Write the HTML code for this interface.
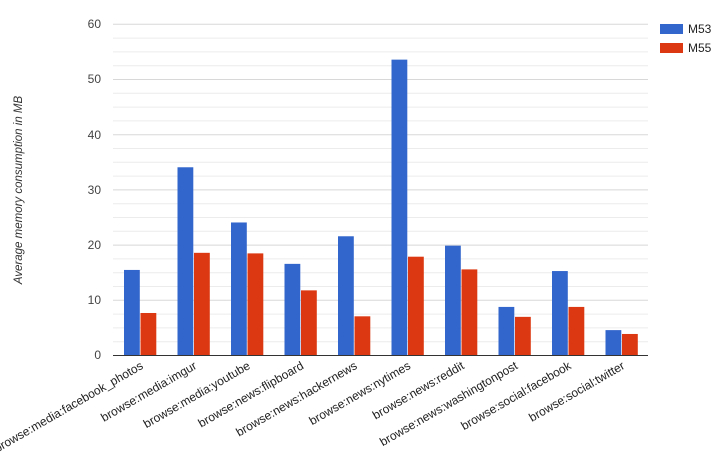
<!DOCTYPE html>
<html><head><meta charset="utf-8"><style>
html,body{margin:0;padding:0;background:#fff;}
svg{display:block;font-family:"Liberation Sans",Arial,sans-serif;}
</style></head><body>
<svg width="720" height="458" viewBox="0 0 720 458" xmlns="http://www.w3.org/2000/svg">
<g id="grid"></g>
<g id="bars"></g>
<line x1="113" y1="355.5" x2="648" y2="355.5" stroke="#333" stroke-width="1"/>
<g font-size="12" fill="#444" text-anchor="end">
<text x="101" y="359">0</text>
<text x="101" y="304">10</text>
<text x="101" y="249">20</text>
<text x="101" y="194">30</text>
<text x="101" y="139">40</text>
<text x="101" y="83">50</text>
<text x="101" y="28">60</text>
</g>
<text transform="translate(22,190) rotate(-90)" text-anchor="middle" font-size="11.5" font-style="italic" fill="#333">Average memory consumption in MB</text>
<g id="labels" font-size="12" fill="#222" text-anchor="end"></g>
<rect x="660" y="24" width="23" height="10" fill="#3366cc"/>
<rect x="660" y="43" width="23" height="10" fill="#dc3912"/>
<text x="688" y="33" font-size="12" fill="#222">M53</text>
<text x="688" y="52" font-size="12" fill="#222">M55</text>
<script>
var ns="http://www.w3.org/2000/svg";
var g=document.getElementById('grid'),b=document.getElementById('bars'),l=document.getElementById('labels');
var y0=355.5,s=5.52;
for(var v=2.5;v<=60;v+=2.5){var ln=document.createElementNS(ns,'line');var y=y0-v*s;
ln.setAttribute('x1',113);ln.setAttribute('x2',648);ln.setAttribute('y1',y);ln.setAttribute('y2',y);
ln.setAttribute('stroke',(v%10==0)?'#d8d8d8':'#ececec');ln.setAttribute('stroke-width',1);g.appendChild(ln);}
var m53=[15.5,34.1,24.1,16.6,21.6,53.6,19.9,8.8,15.3,4.6];
var m55=[7.7,18.6,18.5,11.8,7.1,17.9,15.6,7.0,8.8,3.9];
var names=["browse:media:facebook_photos","browse:media:imgur","browse:media:youtube","browse:news:flipboard","browse:news:hackernews","browse:news:nytimes","browse:news:reddit","browse:news:washingtonpost","browse:social:facebook","browse:social:twitter"];
for(var i=0;i<10;i++){var x=124+53.5*i;
[[m53[i],'#3366cc',x],[m55[i],'#dc3912',x+16.5]].forEach(function(a){var r=document.createElementNS(ns,'rect');
r.setAttribute('x',a[2]);r.setAttribute('width',15.8);r.setAttribute('y',y0-a[0]*s);r.setAttribute('height',a[0]*s);r.setAttribute('fill',a[1]);b.appendChild(r);});
var t=document.createElementNS(ns,'text');var cx=x+20;
t.setAttribute('transform','translate('+cx+',368) rotate(-30)');t.textContent=names[i];l.appendChild(t);}
</script>
</svg>
</body></html>
